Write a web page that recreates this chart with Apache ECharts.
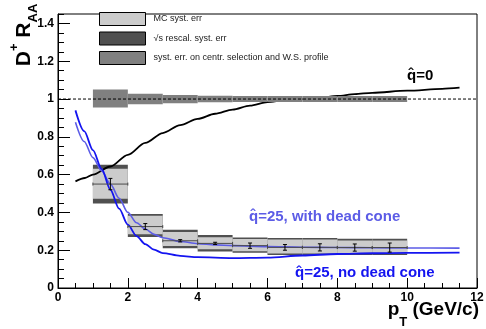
<!DOCTYPE html>
<html><head><meta charset="utf-8">
<script src="https://cdn.jsdelivr.net/npm/echarts@6/dist/echarts.min.js"></script>
<style>html,body{margin:0;padding:0;background:#fff}#c{width:486px;height:329px}</style>
</head><body><div id="c"></div>
<script>
// ---- data ----
const binCenters   = [1.5, 2.5, 3.5, 4.5, 5.5, 6.5, 7.5, 8.5, 9.5];
const binHalfWidth = [0.5, 0.5, 0.5, 0.5, 0.5, 0.5, 0.5, 0.5, 0.5];
const raaValues    = [0.55, 0.325, 0.25, 0.236, 0.224, 0.215, 0.215, 0.214, 0.214];
const statErr      = [0.03, 0.016, 0.006, 0.006, 0.014, 0.015, 0.019, 0.019, 0.024];
const mcLow        = [0.472, 0.285, 0.222, 0.205, 0.195, 0.183, 0.183, 0.183, 0.183];
const mcHigh       = [0.631, 0.382, 0.297, 0.269, 0.259, 0.256, 0.256, 0.252, 0.252];
const rescLow      = [0.447, 0.27, 0.21, 0.193, 0.187, 0.175, 0.175, 0.175, 0.175];
const rescHigh     = [0.652, 0.391, 0.308, 0.281, 0.267, 0.264, 0.264, 0.26, 0.26];
const centrLow     = [0.955, 0.972, 0.978, 0.983, 0.984, 0.984, 0.984, 0.984, 0.984];
const centrHigh    = [1.05, 1.028, 1.022, 1.017, 1.016, 1.016, 1.016, 1.016, 1.016];

const q0X = [0.5, 0.77, 1, 1.5, 2, 2.5, 3, 3.5, 4, 4.5, 5, 5.5, 6, 6.5, 7, 7.5, 8, 8.5, 9, 10, 11, 11.5];
const q0Y = [0.564, 0.582, 0.6, 0.643, 0.705, 0.768, 0.82, 0.862, 0.895, 0.922, 0.944, 0.965, 0.984, 0.993, 1.0, 1.007, 1.016, 1.026, 1.033, 1.044, 1.054, 1.06];
const noDeadX = [0.5, 0.75, 1, 1.25, 1.5, 1.75, 2, 2.25, 2.5, 2.75, 3, 3.5, 4, 5, 6, 7, 8, 9, 10, 11.5];
const noDeadY = [0.94, 0.83, 0.73, 0.63, 0.52, 0.42, 0.335, 0.275, 0.232, 0.203, 0.185, 0.17, 0.163, 0.158, 0.161, 0.172, 0.18, 0.184, 0.186, 0.187];
const withDeadX = [0.5, 0.75, 1, 1.25, 1.5, 1.75, 2, 2.25, 2.5, 2.75, 3, 3.5, 4, 4.5, 5, 6, 7, 8, 9, 10, 11.5];
const withDeadY = [0.877, 0.775, 0.69, 0.62, 0.55, 0.475, 0.4, 0.345, 0.312, 0.284, 0.266, 0.246, 0.235, 0.228, 0.224, 0.219, 0.216, 0.214, 0.213, 0.212, 0.211];
const refLineX = [0, 12];
const refLineY = [1, 1];

const legendNames = ['MC syst. err', '\u221As rescal. syst. err', 'syst. err. on centr. selection and W.S. profile'];
const curveLabels = ['q\u0302=0', 'q\u0302=25, with dead cone', 'q\u0302=25, no dead cone'];

// ---- build ----
const ff = "'Liberation Sans', Arial, Helvetica, sans-serif";
const zip = (xs, ys) => xs.map((x, i) => [x, ys[i]]);
const boxes = (lo, hi) => binCenters.map((c, i) => [c - binHalfWidth[i], c + binHalfWidth[i], lo[i], hi[i]]);
const points = binCenters.map((c, i) => [c, raaValues[i], binHalfWidth[i], statErr[i]]);

function boxRender(params, api) {
  const p0 = api.coord([api.value(0), api.value(3)]);
  const p1 = api.coord([api.value(1), api.value(2)]);
  return {type: 'rect', shape: {x: p0[0], y: p0[1], width: p1[0] - p0[0], height: p1[1] - p0[1]},
          style: {fill: api.visual('color')}};
}
function hbarRender(params, api) {
  const x = api.value(0), y = api.value(1), hw = api.value(2);
  const a = api.coord([x - hw, y]), b = api.coord([x + hw, y]);
  const st = {stroke: '#4a4a4a', lineWidth: 1};
  return {type: 'group', children: [
    {type: 'line', shape: {x1: a[0], y1: a[1], x2: b[0], y2: b[1]}, style: st},
    {type: 'line', shape: {x1: a[0], y1: a[1] - 1.5, x2: a[0], y2: a[1] + 1.5}, style: st},
    {type: 'line', shape: {x1: b[0], y1: b[1] - 1.5, x2: b[0], y2: b[1] + 1.5}, style: st}
  ]};
}
function errRender(params, api) {
  const x = api.value(0), y = api.value(1), e = api.value(3);
  const t = api.coord([x, y + e]), b = api.coord([x, y - e]);
  const st = {stroke: '#000', lineWidth: 1};
  return {type: 'group', children: [
    {type: 'line', shape: {x1: t[0], y1: t[1], x2: b[0], y2: b[1]}, style: st},
    {type: 'line', shape: {x1: t[0] - 2, y1: t[1], x2: t[0] + 2, y2: t[1]}, style: st},
    {type: 'line', shape: {x1: b[0] - 2, y1: b[1], x2: b[0] + 2, y2: b[1]}, style: st}
  ]};
}

const chart = echarts.init(document.getElementById('c'));
const tickLbl = {color: '#000', fontSize: 12, fontWeight: 'bold', fontFamily: ff};
chart.setOption({
  animation: false,
  backgroundColor: '#fff',
  grid: {left: 58, right: 9, top: 14, bottom: 41, show: true, borderColor: '#000', borderWidth: 1, containLabel: false, outerBoundsMode: 'none'},
  legend: {
    orient: 'vertical', left: 99, top: 12, padding: 0, itemWidth: 46, itemHeight: 13, itemGap: 5.5, icon: 'rect',
    selectedMode: false, data: legendNames,
    itemStyle: {borderColor: '#000', borderWidth: 1},
    textStyle: {fontSize: 9, color: '#222', fontFamily: ff, padding: [0, 0, 0, 3]}
  },
  xAxis: {
    type: 'value', min: 0, max: 12, interval: 2,
    axisLine: {show: true, onZero: false, lineStyle: {color: '#000', width: 1}},
    axisTick: {show: true, inside: true, length: 10, lineStyle: {color: '#000'}},
    minorTick: {show: true, splitNumber: 4, length: 5, lineStyle: {color: '#000'}},
    splitLine: {show: false},
    axisLabel: Object.assign({margin: 4}, tickLbl)
  },
  yAxis: [{
    type: 'value', min: 0, max: 1.45, interval: 0.2, position: 'left',
    axisLine: {show: true, onZero: false, lineStyle: {color: '#000', width: 1}},
    axisTick: {show: true, inside: true, length: 12, lineStyle: {color: '#000'}},
    splitLine: {show: false},
    axisLabel: Object.assign({margin: 4, showMaxLabel: false,
      formatter: v => (Math.abs(v / 0.2 - Math.round(v / 0.2)) < 1e-6 ? String(+v.toFixed(1)) : '')}, tickLbl)
  }, {
    type: 'value', min: 0, max: 1.45, interval: 0.05, position: 'left', offset: 0,
    axisLine: {show: false}, axisLabel: {show: false}, splitLine: {show: false},
    axisTick: {show: true, inside: true, length: 6, lineStyle: {color: '#000'}}
  }],
  series: [
    {name: legendNames[1], type: 'custom', renderItem: boxRender, data: boxes(rescLow, rescHigh),
     encode: {x: [0, 1], y: [2, 3]}, itemStyle: {color: '#505050'}, z: 2},
    {name: legendNames[0], type: 'custom', renderItem: boxRender, data: boxes(mcLow, mcHigh),
     encode: {x: [0, 1], y: [2, 3]}, itemStyle: {color: '#cccccc'}, z: 3},
    {name: 'q0', type: 'line', data: zip(q0X, q0Y), smooth: 0.3, smoothMonotone: 'x', showSymbol: false, symbol: 'none',
     lineStyle: {color: '#000', width: 1.8}, z: 4},
    {name: legendNames[2], type: 'custom', renderItem: boxRender, data: boxes(centrLow, centrHigh),
     encode: {x: [0, 1], y: [2, 3]}, itemStyle: {color: '#808080'}, z: 5},
    {name: 'ref', type: 'line', data: zip(refLineX, refLineY), symbol: 'none',
     lineStyle: {color: '#000', width: 1, type: [3, 2]}, z: 6},
    {name: 'withDead', type: 'line', data: zip(withDeadX, withDeadY), smooth: 0.3, smoothMonotone: 'x', symbol: 'none',
     lineStyle: {color: '#5c5ce6', width: 1.6}, z: 7},
    {name: 'noDead', type: 'line', data: zip(noDeadX, noDeadY), smooth: 0.3, smoothMonotone: 'x', symbol: 'none',
     lineStyle: {color: '#1414f0', width: 1.8}, z: 7},
    {name: 'center', type: 'custom', renderItem: hbarRender, data: points, encode: {x: 0, y: 1}, z: 8},
    {name: 'stat', type: 'custom', renderItem: errRender, data: points, encode: {x: 0, y: 1}, z: 9}
  ],
  graphic: [
    {type: 'text', x: 8, y: 35, rotation: Math.PI / 2, z: 100,
     style: {text: '{m|D}{sup|+}{m| R}{sub|AA}', align: 'center', verticalAlign: 'top', fill: '#000',
       rich: {m: {fontSize: 21, fontWeight: 'bold', fontFamily: ff, lineHeight: 32},
              sup: {fontSize: 13, fontWeight: 'bold', fontFamily: ff, lineHeight: 13, verticalAlign: 'top'},
              sub: {fontSize: 13, fontWeight: 'bold', fontFamily: ff, lineHeight: 13, verticalAlign: 'bottom'}}}},
    {type: 'text', x: 479, y: 291.6, z: 100,
     style: {text: '{m|p}{sub|T}{m| (GeV/c)}', align: 'right', verticalAlign: 'top', fill: '#000',
       rich: {m: {fontSize: 19, fontWeight: 'bold', fontFamily: ff, lineHeight: 37},
              sub: {fontSize: 13, fontWeight: 'bold', fontFamily: ff, lineHeight: 13, verticalAlign: 'bottom'}}}},
    {type: 'text', x: 407, y: 75.5, z: 100,
     style: {text: curveLabels[0], fill: '#000', font: 'bold 15px ' + ff, align: 'left', verticalAlign: 'middle'}},
    {type: 'text', x: 249, y: 216.5, z: 100,
     style: {text: curveLabels[1], fill: '#5c5ce6', font: 'bold 15px ' + ff, align: 'left', verticalAlign: 'middle'}},
    {type: 'text', x: 295, y: 273, z: 100,
     style: {text: curveLabels[2], fill: '#1414f0', font: 'bold 15px ' + ff, align: 'left', verticalAlign: 'middle'}}
  ]
});
</script></body></html>
